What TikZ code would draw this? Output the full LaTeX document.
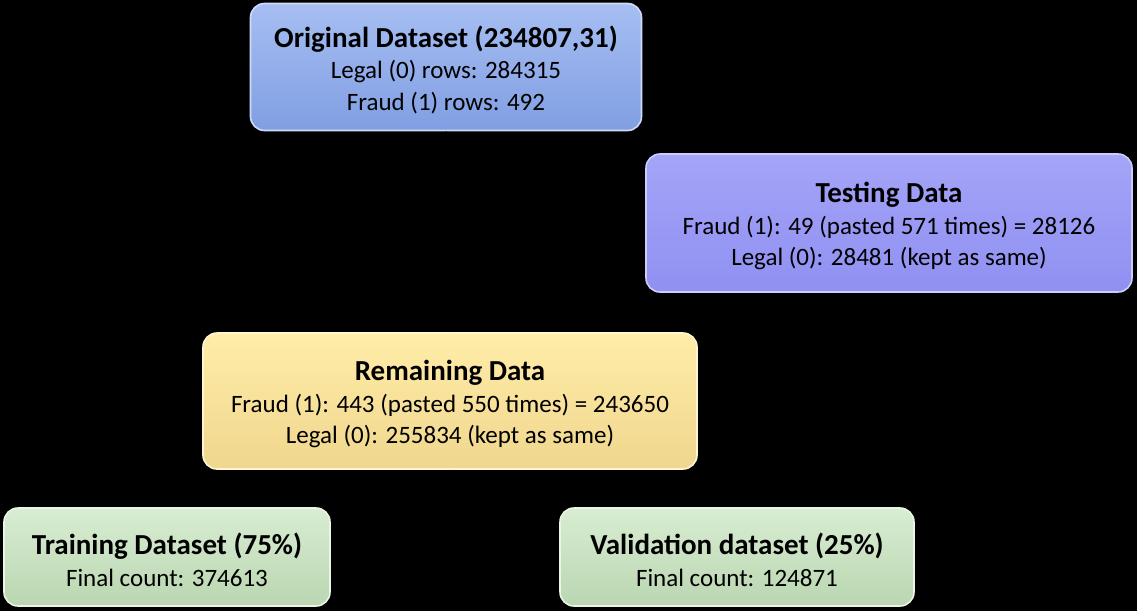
\documentclass[tikz,border=0pt]{standalone}
\usepackage{fontspec}
\setmainfont{Carlito}
\usetikzlibrary{arrows.meta,positioning,calc}

\definecolor{origtop}{HTML}{A6BEF2}
\definecolor{origbot}{HTML}{809EE2}
\definecolor{testtop}{HTML}{A4A4F8}
\definecolor{testbot}{HTML}{9090F2}
\definecolor{remtop}{HTML}{FFEDA8}
\definecolor{rembot}{HTML}{F0D68E}
\definecolor{greentop}{HTML}{D8EDD2}
\definecolor{greenbot}{HTML}{BAD6B1}

\tikzset{
  databox/.style={rounded corners=14pt, line width=1.6pt, align=center,
    inner sep=0pt, font=\fontsize{25}{31.5}\selectfont, text=black},
  origbox/.style={databox, draw=origtop!55!white, top color=origtop, bottom color=origbot,
    minimum width=391pt, minimum height=127pt},
  testbox/.style={databox, draw=testtop!55!white, top color=testtop, bottom color=testbot,
    minimum width=486pt, minimum height=138pt},
  rembox/.style={databox, draw=remtop!55!white, top color=remtop, bottom color=rembot,
    minimum width=494pt, minimum height=136pt},
  splitbox/.style={databox, draw=greentop!55!white, top color=greentop, bottom color=greenbot,
    minimum height=98pt},
  flow/.style={-{Triangle[length=6pt,width=6pt]}, black, line width=1pt}
}
\newcommand{\ttl}[1]{{\fontsize{29}{31.5}\selectfont\bfseries\rule{0pt}{27pt}#1}}

\begin{document}
\begin{tikzpicture}[x=1pt,y=1pt]
    % Background
    \fill[black] (0,0) rectangle (1137,-611);
    \useasboundingbox (0,0) rectangle (1137,-611);

    % Data boxes
    \node[origbox] (orig) at (446,-67)
      {\ttl{Original Dataset (234807,31)}\\Legal (0) rows: 284315\\Fraud (1) rows: 492};
    \node[testbox] (test) at (889,-223)
      {\ttl{Testing Data}\\Fraud (1): 49 (pasted 571 times) = 28126\\Legal (0): 28481 (kept as same)};
    \node[rembox] (rem) at (450,-401)
      {\ttl{Remaining Data}\\Fraud (1): 443 (pasted 550 times) = 243650\\Legal (0): 255834 (kept as same)};
    \node[splitbox, minimum width=326pt] (train) at (167,-557)
      {\ttl{Training Dataset (75\%)}\\Final count: 374613};
    \node[splitbox, minimum width=354pt] (valid) at (737,-557)
      {\ttl{Validation dataset (25\%)}\\Final count: 124871};

    % Connectors (black on black)
    \draw[flow] (orig.south) -- (rem.north);
    \draw[flow] (orig.south east) |- (test.west);
    \draw[flow] (rem.south) |- (train.east);
    \draw[flow] (rem.south) |- (valid.west);
\end{tikzpicture}
\end{document}
